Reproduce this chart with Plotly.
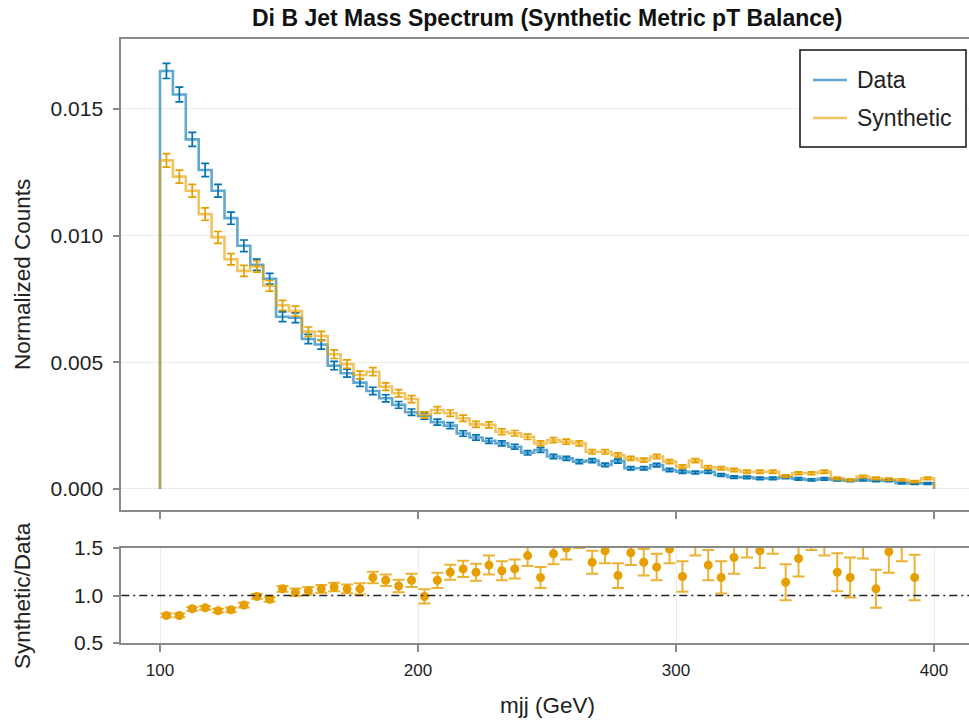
import plotly.graph_objects as go

# ---------------- data ----------------
bin_edges = list(range(100, 405, 5))          # 60 bins of 5 GeV, 100..400
bin_centers = [e + 2.5 for e in bin_edges[:-1]]

data_vals = [0.01650, 0.01557, 0.01380, 0.01259, 0.01177, 0.01069, 0.00960, 0.00885, 0.00830, 0.00680,
             0.00676, 0.00592, 0.00570, 0.00487, 0.00457, 0.00420, 0.00387, 0.00358, 0.00332, 0.00303,
             0.00288, 0.00264, 0.00250, 0.00219, 0.00203, 0.00190, 0.00180, 0.00167, 0.00143, 0.00154,
             0.00128, 0.00121, 0.00108, 0.00112, 0.00095, 0.00110, 0.00082, 0.00082, 0.00094, 0.00075,
             0.00068, 0.00065, 0.00068, 0.00055, 0.00047, 0.00046, 0.00042, 0.00042, 0.00046, 0.00040,
             0.00036, 0.00040, 0.00036, 0.00033, 0.00036, 0.00033, 0.00033, 0.00024, 0.00022, 0.00022]

data_err = [0.000299, 0.000291, 0.000274, 0.000261, 0.000253, 0.000241, 0.000228, 0.000219, 0.000212, 0.000192,
            0.000192, 0.000179, 0.000176, 0.000163, 0.000158, 0.000151, 0.000145, 0.000139, 0.000134, 0.000128,
            0.000125, 0.000120, 0.000117, 0.000109, 0.000105, 0.000102, 0.000099, 0.000095, 0.000088, 0.000091,
            0.000083, 0.000081, 0.000077, 0.000078, 0.000072, 0.000077, 0.000067, 0.000067, 0.000071, 0.000064,
            0.000061, 0.000059, 0.000061, 0.000055, 0.000051, 0.000050, 0.000048, 0.000048, 0.000050, 0.000047,
            0.000044, 0.000047, 0.000044, 0.000042, 0.000044, 0.000042, 0.000042, 0.000036, 0.000035, 0.000035]

synth_vals = [0.01297, 0.01233, 0.01177, 0.01085, 0.00993, 0.00907, 0.00861, 0.00878, 0.00802, 0.00725,
              0.00702, 0.00621, 0.00604, 0.00532, 0.00493, 0.00450, 0.00463, 0.00404, 0.00378, 0.00355,
              0.00292, 0.00312, 0.00299, 0.00279, 0.00255, 0.00253, 0.00226, 0.00220, 0.00206, 0.00180,
              0.00193, 0.00187, 0.00180, 0.00147, 0.00147, 0.00134, 0.00121, 0.00114, 0.00128, 0.00108,
              0.00088, 0.00112, 0.00086, 0.00082, 0.00075, 0.00068, 0.00068, 0.00068, 0.00051, 0.00062,
              0.00062, 0.00068, 0.00042, 0.00036, 0.00049, 0.00042, 0.00038, 0.00036, 0.00029, 0.00042]

synth_err = [0.000265, 0.000259, 0.000253, 0.000243, 0.000232, 0.000222, 0.000216, 0.000218, 0.000209, 0.000198,
             0.000195, 0.000184, 0.000181, 0.000170, 0.000164, 0.000156, 0.000159, 0.000148, 0.000143, 0.000139,
             0.000126, 0.000130, 0.000127, 0.000123, 0.000118, 0.000117, 0.000111, 0.000109, 0.000106, 0.000099,
             0.000102, 0.000101, 0.000099, 0.000089, 0.000089, 0.000085, 0.000081, 0.000079, 0.000083, 0.000077,
             0.000069, 0.000078, 0.000068, 0.000067, 0.000064, 0.000061, 0.000061, 0.000061, 0.000053, 0.000058,
             0.000058, 0.000061, 0.000048, 0.000044, 0.000052, 0.000048, 0.000045, 0.000044, 0.000040, 0.000048]

ratio_vals = [0.79, 0.79, 0.86, 0.87, 0.84, 0.85, 0.90, 0.99, 0.96, 1.07,
              1.035, 1.05, 1.07, 1.09, 1.07, 1.07, 1.19, 1.16, 1.10, 1.16,
              0.99, 1.16, 1.245, 1.28, 1.245, 1.32, 1.26, 1.28, 1.42, 1.19,
              1.44, 1.50, 1.62, 1.35, 1.47, 1.21, 1.45, 1.35, 1.30, 1.49,
              1.20, 1.58, 1.32, 1.19, 1.40, 1.58, 1.47, 1.62, 1.14, 1.39,
              1.68, 1.62, 1.245, 1.19, 1.60, 1.07, 1.46, 1.58, 1.19, 1.80]

ratio_err = [0.02, 0.02, 0.02, 0.02, 0.02, 0.025, 0.025, 0.025, 0.025, 0.03,
             0.04, 0.04, 0.04, 0.045, 0.045, 0.06, 0.06, 0.06, 0.065, 0.07,
             0.075, 0.08, 0.08, 0.085, 0.09, 0.10, 0.10, 0.10, 0.11, 0.11,
             0.11, 0.12, 0.12, 0.12, 0.13, 0.13, 0.13, 0.14, 0.14, 0.15,
             0.16, 0.16, 0.16, 0.17, 0.17, 0.18, 0.18, 0.18, 0.19, 0.19,
             0.20, 0.20, 0.20, 0.21, 0.21, 0.20, 0.22, 0.22, 0.24, 0.24]

series_names = ["Data", "Synthetic"]
y_ticks_top = [0.0, 0.005, 0.010, 0.015]
y_ticktext_top = ["0.000", "0.005", "0.010", "0.015"]
y_ticks_ratio = [0.5, 1.0, 1.5]
y_ticktext_ratio = ["0.5", "1.0", "1.5"]
x_ticks = [100, 200, 300, 400]

# ---------------- style ----------------
BLUE = "#0072B2"
ORANGE = "#E69F00"
BLUE_L = "rgba(0,114,178,0.62)"
ORANGE_L = "rgba(230,159,0,0.62)"
FONT = "Liberation Sans, Arial, sans-serif"
SPINE = "#8a8a8a"
GRID = "#ebebeb"
TXT = "#222222"

W, H = 969, 720
x_dom = [121.3 / W, 1.0]
x_range = [85, 85 + (W - 121.3) / 2.58]
top_dom = [1 - 510.4 / H, 1 - 39.4 / H]
bot_dom = [1 - 643 / H, 1 - 548 / H]


def px(x):
    return x / W


def py(y):
    return 1 - y / H


def step_xy(vals):
    xs = [bin_edges[0]] + bin_edges[:-1] + [bin_edges[-1], bin_edges[-1]]
    ys = [0] + list(vals) + [vals[-1], 0]
    return xs, ys


fig = go.Figure()

for name, vals, errs, lc, ec in [(series_names[0], data_vals, data_err, BLUE_L, BLUE),
                                 (series_names[1], synth_vals, synth_err, ORANGE_L, ORANGE)]:
    xs, ys = step_xy(vals)
    fig.add_trace(go.Scatter(x=xs, y=ys, mode="lines", line=dict(color=lc, width=2.6, shape="hv"),
                             name=name, showlegend=False, xaxis="x", yaxis="y"))
    fig.add_trace(go.Scatter(x=bin_centers, y=vals, mode="markers",
                             marker=dict(size=1, color="rgba(0,0,0,0)"),
                             error_y=dict(type="data", array=errs, color=ec, thickness=1.7, width=4),
                             showlegend=False, hoverinfo="skip", xaxis="x", yaxis="y"))

fig.add_trace(go.Scatter(x=bin_centers, y=ratio_vals, mode="markers",
                         marker=dict(size=9, color=ORANGE),
                         error_y=dict(type="data", array=ratio_err, color="rgba(230,159,0,0.8)",
                                      thickness=2, width=6),
                         showlegend=False, xaxis="x2", yaxis="y2", cliponaxis=True))

fig.add_shape(type="line", xref="x2 domain", yref="y2", x0=0, x1=1, y0=1.0, y1=1.0,
              line=dict(color=TXT, width=1.6, dash="8px,4px,2px,4px"))

# legend box (drawn as shapes + text)
fig.add_shape(type="rect", xref="paper", yref="paper", x0=px(800), x1=px(966), y0=py(147), y1=py(50),
              line=dict(color="#111111", width=1.5), fillcolor="white", layer="above")
legend_annots = []
for i, (nm, col) in enumerate(zip(series_names, [BLUE_L, ORANGE_L])):
    yy = py(80 + 38 * i)
    fig.add_shape(type="line", xref="paper", yref="paper", x0=px(813), x1=px(847), y0=yy, y1=yy,
                  line=dict(color=col, width=2.6), layer="above")
    legend_annots.append(dict(text=nm, xref="paper", yref="paper", x=px(855), y=yy,
                              xanchor="left", yanchor="middle", showarrow=False,
                              font=dict(family=FONT, size=23, color=TXT)))

tickfont = dict(family=FONT, size=17, color=TXT)
ytickfont = dict(family=FONT, size=21, color=TXT)
labfont = dict(family=FONT, size=22.5, color=TXT)

fig.update_layout(
    width=W, height=H, autosize=False,
    margin=dict(l=0, r=0, t=0, b=0, autoexpand=False),
    paper_bgcolor="white", plot_bgcolor="white",
    font=dict(family=FONT, size=17, color=TXT),
    showlegend=False,
    xaxis=dict(domain=x_dom, range=x_range, anchor="y", showgrid=False, zeroline=False,
               tickvals=x_ticks, ticks="outside", ticklen=7, tickcolor=SPINE, tickwidth=1.5,
               showticklabels=False, showline=True, linecolor=SPINE, linewidth=2, mirror=True),
    yaxis=dict(domain=top_dom, range=[-0.000845, 0.017745], anchor="x", showgrid=True,
               gridcolor=GRID, gridwidth=1, zeroline=False,
               tickvals=y_ticks_top, ticktext=y_ticktext_top, ticks="outside", ticklen=6,
               tickcolor=SPINE, tickwidth=1.5, tickfont=ytickfont, ticklabelstandoff=6,
               showline=True, linecolor=SPINE, linewidth=2, mirror=False),
    xaxis2=dict(domain=x_dom, range=x_range, anchor="y2", matches="x", showgrid=True,
                gridcolor=GRID, gridwidth=1, zeroline=False,
                tickvals=x_ticks, ticktext=[str(v) for v in x_ticks], ticks="outside", ticklen=7,
                tickcolor=SPINE, tickwidth=1.5, tickfont=tickfont, ticklabelstandoff=4,
                showline=True, linecolor=SPINE, linewidth=2, mirror=True),
    yaxis2=dict(domain=bot_dom, range=[0.5, 1.5], anchor="x2", showgrid=False, zeroline=False,
                tickvals=y_ticks_ratio, ticktext=y_ticktext_ratio, ticks="outside", ticklen=6,
                tickcolor=SPINE, tickwidth=1.5, tickfont=ytickfont, ticklabelstandoff=6,
                showline=True, linecolor=SPINE, linewidth=2, mirror=False),
    annotations=[
        dict(text="<b>Di B Jet Mass Spectrum (Synthetic Metric pT Balance)</b>", xref="paper", yref="paper",
             x=547 / W, y=1 - 18 / H, xanchor="center", yanchor="middle", showarrow=False,
             font=dict(family=FONT, size=23, color="#111111")),
        dict(text="Normalized Counts", xref="paper", yref="paper", x=22 / W, y=1 - 275 / H,
             xanchor="center", yanchor="middle", textangle=-90, showarrow=False, font=labfont),
        dict(text="Synthetic/Data", xref="paper", yref="paper", x=22 / W, y=1 - 596 / H,
             xanchor="center", yanchor="middle", textangle=-90, showarrow=False, font=labfont),
        dict(text="mjj (GeV)", xref="paper", yref="paper", x=547 / W, y=1 - 705 / H,
             xanchor="center", yanchor="middle", showarrow=False, font=labfont),
    ] + legend_annots,
)

fig.write_html("out.html", config={"displayModeBar": False},
               post_script="document.body.style.margin='0px';")
